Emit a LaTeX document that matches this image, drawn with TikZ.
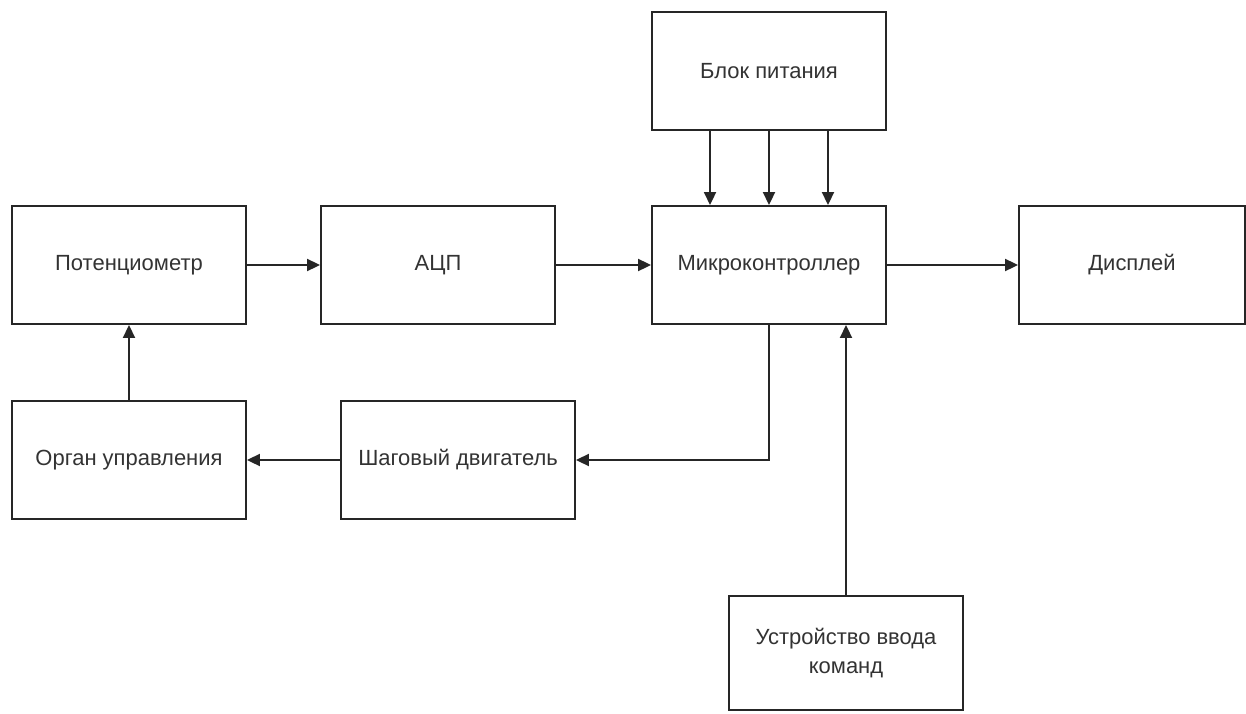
\documentclass[tikz,border=0pt]{standalone}
\usepackage{fontspec}
\setmainfont{Liberation Sans}
\usetikzlibrary{
    calc,
    arrows.meta
}

\begin{document}
\begin{tikzpicture}[x=0.02cm,y=-0.02cm,
        blok/.style={draw=black!85,line width=1.1pt,fill=white,minimum width=4.68cm,
            minimum height=2.36cm,align=center,text=black!80,
            font=\fontsize{12.5}{16}\selectfont},
        strelka/.style={draw=black!85,line width=1.1pt,-{Triangle[length=0.26cm,width=0.24cm]}}]
        \useasboundingbox (0,0) rectangle (1246,713);
        \begin{scope}[shift={(0,0)}]
            \draw ( 769, 71) node[blok](bp){Блок питания};
            \draw ( 129,265) node[blok](pot){Потенциометр};
            \draw ( 438,265) node[blok](acp){АЦП};
            \draw ( 769,265) node[blok](mk){Микроконтроллер};
            \draw (1132,265) node[blok,minimum width=4.52cm](disp){Дисплей};
            \draw ( 129,460) node[blok](org){Орган управления};
            \draw ( 458,460) node[blok](shd){Шаговый двигатель};
            \draw ( 846,653) node[blok,minimum height=2.28cm](uvk){Устройство ввода\\команд};

            % питание
            \draw[strelka] ([xshift=-1.18cm]bp.south) to ([xshift=-1.18cm]mk.north);
            \draw[strelka] (bp.south) to (mk.north);
            \draw[strelka] ([xshift=1.18cm]bp.south) to ([xshift=1.18cm]mk.north);

            \draw[strelka] (pot) to (acp);
            \draw[strelka] (acp) to (mk);
            \draw[strelka] (mk) to (disp);
            \draw[strelka] (mk.south) |- (shd.east);
            \draw[strelka] (shd) to (org);
            \draw[strelka] (org) to (pot);
            \draw[strelka] (uvk.north) to (uvk.north |- mk.south);
        \end{scope}
    \end{tikzpicture}
\end{document}
